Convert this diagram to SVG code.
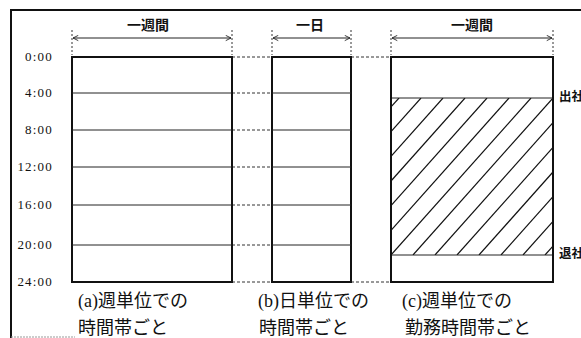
<svg xmlns="http://www.w3.org/2000/svg" width="581" height="338" viewBox="0 0 581 338">
<style>
.box{fill:#fff;stroke:#111;stroke-width:2}
.row{stroke:#222;stroke-width:1}
.dash{stroke:#333;stroke-width:1;stroke-dasharray:3 2}
.ext{stroke:#333;stroke-width:1;stroke-dasharray:2 2}
.dim{stroke:#222;stroke-width:1;fill:none}
.hatch{stroke:#111;stroke-width:1.2}
.time{font-family:"Liberation Serif",serif;font-size:13px;letter-spacing:1.2px;fill:#111;text-anchor:end}
.head{font-family:"Noto Sans CJK JP",sans-serif;font-size:14px;font-weight:bold;fill:#111;text-anchor:middle}
.cap{font-family:"Liberation Serif","Noto Sans CJK JP",serif;font-size:18px;fill:#111}
.side{font-family:"Noto Sans CJK JP",sans-serif;font-size:12.5px;font-weight:bold;fill:#111}
</style>
<defs>
<marker id="arr" viewBox="0 0 8 8" refX="7" refY="4" markerWidth="7" markerHeight="7" orient="auto-start-reverse" markerUnits="userSpaceOnUse">
<path d="M1,1 L7,4 L1,7" fill="none" stroke="#222" stroke-width="1"/>
</marker>
<clipPath id="hc"><rect x="391" y="98" width="162" height="157"/></clipPath>
</defs>

<g id="frame">
<rect x="10" y="9" width="2" height="329" fill="#111"/>
<rect x="10" y="9" width="571" height="2" fill="#111"/>
<line x1="11" y1="337" x2="75" y2="337" stroke="#999" stroke-width="1" stroke-dasharray="2 1"/>
</g>

<g id="connectors">
<line class="dash" x1="232" y1="57" x2="272" y2="57"/>
<line class="dash" x1="232" y1="93" x2="272" y2="93"/>
<line class="dash" x1="232" y1="130" x2="272" y2="130"/>
<line class="dash" x1="232" y1="167" x2="272" y2="167"/>
<line class="dash" x1="232" y1="205" x2="272" y2="205"/>
<line class="dash" x1="232" y1="245" x2="272" y2="245"/>
<line class="dash" x1="232" y1="282" x2="272" y2="282"/>
<line class="dash" x1="351" y1="57" x2="391" y2="57"/>
<line class="dash" x1="351" y1="282" x2="391" y2="282"/>
</g>

<g id="time-labels">
<text class="time" x="53" y="61">0:00</text>
<text class="time" x="53" y="97">4:00</text>
<text class="time" x="53" y="134">8:00</text>
<text class="time" x="53" y="171">12:00</text>
<text class="time" x="53" y="209">16:00</text>
<text class="time" x="53" y="249">20:00</text>
<text class="time" x="53" y="286">24:00</text>
</g>

<g id="box-a">
<text class="head" x="148" y="30">一週間</text>
<line class="ext" x1="72" y1="30" x2="72" y2="55"/>
<line class="ext" x1="232" y1="30" x2="232" y2="55"/>
<line class="dim" x1="73" y1="38" x2="231" y2="38" marker-start="url(#arr)" marker-end="url(#arr)"/>
<rect class="box" x="72" y="57" width="160" height="225"/>
<line class="row" x1="72" y1="93" x2="232" y2="93"/>
<line class="row" x1="72" y1="130" x2="232" y2="130"/>
<line class="row" x1="72" y1="167" x2="232" y2="167"/>
<line class="row" x1="72" y1="205" x2="232" y2="205"/>
<line class="row" x1="72" y1="245" x2="232" y2="245"/>
<text class="cap" x="78" y="307">(a)週単位での</text>
<text class="cap" x="78" y="334">時間帯ごと</text>
</g>

<g id="box-b">
<text class="head" x="310" y="30">一日</text>
<line class="ext" x1="272" y1="30" x2="272" y2="55"/>
<line class="ext" x1="351" y1="30" x2="351" y2="55"/>
<line class="dim" x1="273" y1="38" x2="350" y2="38" marker-start="url(#arr)" marker-end="url(#arr)"/>
<rect class="box" x="272" y="57" width="79" height="225"/>
<line class="row" x1="272" y1="93" x2="351" y2="93"/>
<line class="row" x1="272" y1="130" x2="351" y2="130"/>
<line class="row" x1="272" y1="167" x2="351" y2="167"/>
<line class="row" x1="272" y1="205" x2="351" y2="205"/>
<line class="row" x1="272" y1="245" x2="351" y2="245"/>
<text class="cap" x="258" y="307">(b)日単位での</text>
<text class="cap" x="259" y="334">時間帯ごと</text>
</g>

<g id="box-c">
<text class="head" x="472" y="30">一週間</text>
<line class="ext" x1="391" y1="30" x2="391" y2="55"/>
<line class="ext" x1="553" y1="30" x2="553" y2="55"/>
<line class="dim" x1="392" y1="38" x2="552" y2="38" marker-start="url(#arr)" marker-end="url(#arr)"/>
<rect class="box" x="391" y="57" width="162" height="225"/>
<g clip-path="url(#hc)">
<line class="hatch" x1="259" y1="255" x2="399" y2="98"/>
<line class="hatch" x1="281" y1="255" x2="421" y2="98"/>
<line class="hatch" x1="303" y1="255" x2="443" y2="98"/>
<line class="hatch" x1="325" y1="255" x2="465" y2="98"/>
<line class="hatch" x1="347" y1="255" x2="487" y2="98"/>
<line class="hatch" x1="369" y1="255" x2="509" y2="98"/>
<line class="hatch" x1="391" y1="255" x2="531" y2="98"/>
<line class="hatch" x1="413" y1="255" x2="553" y2="98"/>
<line class="hatch" x1="435" y1="255" x2="575" y2="98"/>
<line class="hatch" x1="457" y1="255" x2="597" y2="98"/>
<line class="hatch" x1="479" y1="255" x2="619" y2="98"/>
<line class="hatch" x1="501" y1="255" x2="641" y2="98"/>
<line class="hatch" x1="523" y1="255" x2="663" y2="98"/>
<line class="hatch" x1="545" y1="255" x2="685" y2="98"/>
</g>
<line class="row" x1="391" y1="98" x2="553" y2="98"/>
<line class="row" x1="391" y1="255" x2="553" y2="255"/>
<rect x="391" y="57" width="162" height="225" fill="none" stroke="#111" stroke-width="2"/>
<text class="side" x="559" y="101">出社</text>
<text class="side" x="559" y="258">退社</text>
<text class="cap" x="402" y="307">(c)週単位での</text>
<text class="cap" x="405" y="334">勤務時間帯ごと</text>
</g>
</svg>
